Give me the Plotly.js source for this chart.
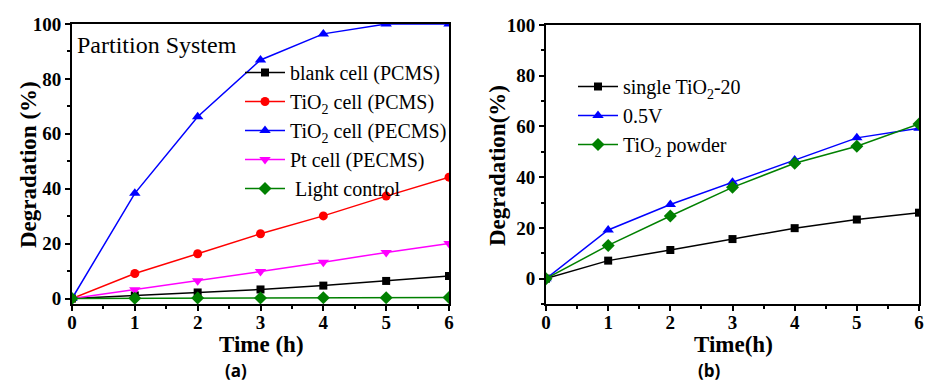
<!DOCTYPE html>
<html>
<head>
<meta charset="utf-8">
<script src="https://cdn.plot.ly/plotly-3.0.1.min.js"></script>
<style>
  html, body { margin: 0; padding: 0; background: #fff; }
  #chart { width: 925px; height: 381px; }
</style>
</head>
<body>
<div id="chart"></div>
<script>
// Time axis (hours)
const hours = [0, 1, 2, 3, 4, 5, 6];

// Panel (a): partition system degradation (%)
const blankCellPCMS = [0, 1.1, 2.2, 3.3, 4.7, 6.4, 8.2];
const tio2CellPCMS = [0, 9.1, 16.3, 23.6, 30.1, 37.3, 44.2];
const tio2CellPECMS = [0, 38.3, 66.2, 86.9, 96.4, 100, 100];
const ptCellPECMS = [0, 3.2, 6.5, 9.8, 13.2, 16.8, 20.0];
const lightControl = [0, 0.1, 0.2, 0.2, 0.3, 0.3, 0.4];

// Panel (b): degradation (%)
const singleTiO2_20 = [0, 7.1, 11.3, 15.6, 19.9, 23.3, 26.0];
const bias05V = [0, 19.2, 29.2, 38.0, 46.8, 55.5, 59.3];
const tio2Powder = [0, 13.1, 24.7, 36.0, 45.5, 52.2, 61.0];

const namesA = [
  'blank cell (PCMS)',
  'TiO<sub>2</sub> cell (PCMS)',
  'TiO<sub>2</sub> cell (PECMS)',
  'Pt cell (PECMS)',
  ' Light control'
];
const namesB = ['single TiO<sub>2</sub>-20', '0.5V', 'TiO<sub>2</sub> powder'];

const W = 925, H = 381;
const serif = '"Liberation Serif", "Times New Roman", Times, serif';

function tr(y, name, color, symbol, size, xa, ya, legend) {
  return {
    x: hours, y: y, name: name, type: 'scatter', mode: 'lines+markers',
    line: { color: color, width: 1.5 },
    marker: { color: color, symbol: symbol, size: size },
    xaxis: xa, yaxis: ya, legend: legend
  };
}

const data = [
  tr(blankCellPCMS, namesA[0], '#000000', 'square', 8, 'x', 'y', 'legend'),
  tr(tio2CellPCMS, namesA[1], '#ff0000', 'circle', 9, 'x', 'y', 'legend'),
  tr(tio2CellPECMS, namesA[2], '#0000ff', 'triangle-up', 10, 'x', 'y', 'legend'),
  tr(ptCellPECMS, namesA[3], '#ff00ff', 'triangle-down', 10, 'x', 'y', 'legend'),
  tr(lightControl, namesA[4], '#008000', 'diamond', 10, 'x', 'y', 'legend'),
  tr(singleTiO2_20, namesB[0], '#000000', 'square', 8, 'x2', 'y2', 'legend2'),
  tr(bias05V, namesB[1], '#0000ff', 'triangle-up', 10, 'x2', 'y2', 'legend2'),
  tr(tio2Powder, namesB[2], '#008000', 'diamond', 10, 'x2', 'y2', 'legend2')
];

const tickFont = { family: serif, size: 19, color: '#000', weight: 'bold' };
const titleFont = { family: serif, size: 23, color: '#000', weight: 'bold' };

function xAxis(domain, anchor) {
  return {
    domain: domain, anchor: anchor, range: [0, 6],
    tickmode: 'linear', tick0: 0, dtick: 1,
    ticks: 'outside', ticklen: 5, tickwidth: 2, tickcolor: '#000',
    ticklabelstandoff: -5,
    minor: { dtick: 0.5, ticks: 'outside', ticklen: 3, tickwidth: 2, tickcolor: '#000' },
    showline: true, linewidth: 2, linecolor: '#000', mirror: true,
    showgrid: false, zeroline: false,
    tickfont: tickFont
  };
}
function yAxis(domain, anchor, range) {
  return {
    domain: domain, anchor: anchor, range: range,
    tickmode: 'linear', tick0: 0, dtick: 20,
    ticks: 'outside', ticklen: 5, tickwidth: 2, tickcolor: '#000',
    minor: { dtick: 10, ticks: 'outside', ticklen: 3, tickwidth: 2, tickcolor: '#000' },
    showline: true, linewidth: 2, linecolor: '#000', mirror: true,
    showgrid: false, zeroline: false,
    tickfont: tickFont
  };
}

// axis titles placed as paper annotations for precise placement
function label(text, x, y, angle, font) {
  return { text: text, xref: 'paper', yref: 'paper', x: x / W, y: (H - y) / H,
    xanchor: 'center', yanchor: 'middle', textangle: angle || 0,
    showarrow: false, font: font };
}

const layout = {
  width: W, height: H,
  margin: { l: 0, r: 0, t: 0, b: 0 },
  paper_bgcolor: '#fff', plot_bgcolor: '#fff',
  showlegend: true,
  xaxis: xAxis([72 / W, 449 / W], 'y'),
  yaxis: yAxis([(H - 304) / H, (H - 24) / H], 'x', [-2, 100]),
  xaxis2: xAxis([546 / W, 919 / W], 'y2'),
  yaxis2: yAxis([(H - 304) / H, (H - 25) / H], 'x2', [-10, 100]),
  legend: {
    x: 240 / W, y: (H - 53) / H, xanchor: 'left', yanchor: 'top',
    bgcolor: 'rgba(0,0,0,0)', borderwidth: 0,
    font: { family: serif, size: 20, color: '#000' },
    itemwidth: 40, tracegroupgap: 0
  },
  legend2: {
    x: 573 / W, y: (H - 67) / H, xanchor: 'left', yanchor: 'top',
    bgcolor: 'rgba(0,0,0,0)', borderwidth: 0,
    font: { family: serif, size: 20, color: '#000' },
    itemwidth: 40, tracegroupgap: 0
  },
  annotations: [
    label('Time (h)', 261, 344, 0, titleFont),
    label('Time(h)', 733, 344, 0, titleFont),
    label('Degradation (%)', 28, 165, -90, titleFont),
    label('Degradation(%)', 497, 165, -90, titleFont),
    { text: 'Partition System', xref: 'paper', yref: 'paper',
      x: 75 / W, y: (H - 45) / H, xanchor: 'left', yanchor: 'middle',
      showarrow: false, font: { family: serif, size: 24, color: '#000' } },
    label('(a)', 236, 370, 0, { family: 'Open Sans', size: 17, color: '#000', weight: 'bold' }),
    label('(b)', 709, 370, 0, { family: 'Open Sans', size: 17, color: '#000', weight: 'bold' })
  ]
};

Plotly.newPlot('chart', data, layout, { displayModeBar: false, staticPlot: true });
</script>
</body>
</html>
